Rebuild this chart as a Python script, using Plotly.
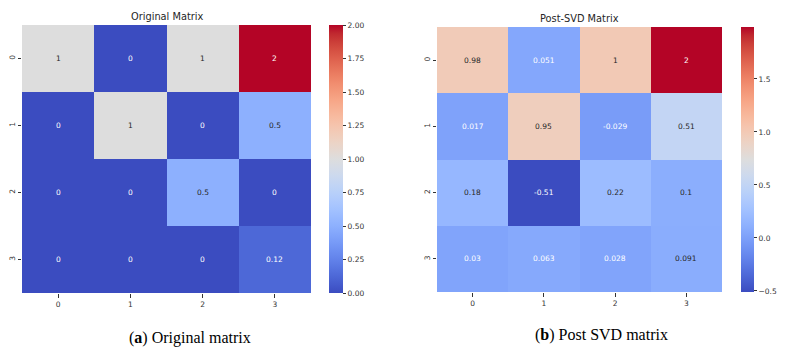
import plotly.graph_objects as go

# data
rows = [0, 1, 2, 3]
cols = [0, 1, 2, 3]
original = [
    [1, 0, 1, 2],
    [0, 1, 0, 0.5],
    [0, 0, 0.5, 0],
    [0, 0, 0, 0.125],
]
post_svd = [
    [0.98, 0.051, 1.0, 1.99],
    [0.017, 0.95, -0.029, 0.51],
    [0.18, -0.51, 0.22, 0.1],
    [0.03, 0.063, 0.028, 0.091],
]
orig_ticks = [0, 0.25, 0.5, 0.75, 1.0, 1.25, 1.5, 1.75, 2.0]
svd_ticks = [-0.5, 0.0, 0.5, 1.0, 1.5]

# matplotlib "coolwarm" (Moreland table)
cw = [
    (59, 76, 192), (68, 90, 204), (77, 104, 215), (87, 117, 225), (98, 130, 234),
    (108, 142, 241), (119, 154, 247), (130, 165, 251), (141, 176, 254), (152, 185, 255),
    (163, 194, 255), (174, 201, 253), (184, 208, 249), (194, 213, 244), (204, 217, 238),
    (213, 219, 230), (221, 221, 221), (229, 216, 209), (236, 211, 197), (241, 204, 185),
    (245, 196, 173), (247, 187, 160), (247, 177, 148), (247, 166, 135), (244, 154, 123),
    (241, 141, 111), (236, 127, 99), (229, 112, 88), (222, 96, 77), (213, 80, 66),
    (203, 62, 56), (192, 40, 47), (180, 4, 38),
]
n = len(cw) - 1
coolwarm = [[i / n, 'rgb(%d,%d,%d)' % c] for i, c in enumerate(cw)]


def cmap(t):
    t = min(max(t, 0), 1) * n
    i = min(int(t), n - 1)
    f = t - i
    return [cw[i][k] + (cw[i + 1][k] - cw[i][k]) * f for k in range(3)]


def text_color(rgb):
    # seaborn's rule for annotation colour
    lin = []
    for c in rgb:
        c = c / 255
        lin.append(c / 12.92 if c <= 0.03928 else ((c + 0.055) / 1.055) ** 2.4)
    lum = 0.2126 * lin[0] + 0.7152 * lin[1] + 0.0722 * lin[2]
    return '#262626' if lum > 0.408 else 'white'


# page body has an 8px margin, so work in page pixels and shift
OFF = 8
W, H = 788 - OFF, 349 - OFF
tick_font = dict(family='DejaVu Sans', size=7.5, color='#333333')


def px(x):
    return (x - OFF) / W


def py(y):
    return 1 - (y - OFF) / H


panels = [
    dict(z=original, zmin=0, zmax=2, ticks=orig_ticks, fmt='.2f',
         xs=(22, 311), ys=(25, 293), cbx=329, cbw=14,
         title='Original Matrix', caption='(<b>a</b>) Original matrix', capx=190, capy=338),
    dict(z=post_svd, zmin=-0.51, zmax=1.99, ticks=svd_ticks, fmt='.1f',
         xs=(437, 722), ys=(27, 292), cbx=741, cbw=13,
         title='Post-SVD Matrix', caption='(<b>b</b>) Post SVD matrix', capx=601, capy=335),
]

fig = go.Figure()
annotations = []
for k, p in enumerate(panels):
    ax = '' if k == 0 else str(k + 1)
    fig.add_trace(go.Heatmap(
        z=p['z'], x=cols, y=rows, xaxis='x' + ax, yaxis='y' + ax,
        colorscale=coolwarm, zmin=p['zmin'], zmax=p['zmax'],
        hoverinfo='z',
        colorbar=dict(
            x=px(p['cbx']), xanchor='left', xpad=0,
            y=py(p['ys'][0]), yanchor='top', ypad=0,
            lenmode='pixels', len=p['ys'][1] - p['ys'][0],
            thickness=p['cbw'], outlinewidth=0,
            tickvals=p['ticks'], tickformat=p['fmt'],
            ticks='outside', ticklen=3.5, tickwidth=0.8, tickcolor='#333333',
            tickfont=tick_font,
        ),
    ))
    fig.update_layout({
        'xaxis' + ax: dict(
            domain=[px(p['xs'][0]), px(p['xs'][1])], anchor='y' + ax,
            tickvals=cols, ticks='outside', ticklen=3.5, tickwidth=0.8, tickcolor='#333333',
            tickfont=tick_font, showgrid=False, zeroline=False, showline=False,
        ),
        'yaxis' + ax: dict(
            domain=[py(p['ys'][1]), py(p['ys'][0])], anchor='x' + ax,
            tickvals=rows, autorange='reversed', tickangle=-90,
            ticks='outside', ticklen=3.5, tickwidth=0.8, tickcolor='#333333',
            tickfont=tick_font, showgrid=False, zeroline=False, showline=False,
        ),
    })
    span = p['zmax'] - p['zmin']
    for i, r in enumerate(rows):
        for j, c in enumerate(cols):
            v = p['z'][i][j]
            col = text_color(cmap((v - p['zmin']) / span))
            annotations.append(dict(
                x=c, y=r, xref='x' + ax, yref='y' + ax, text=format(v, '.2g'),
                showarrow=False, font=dict(family='DejaVu Sans', size=7.5, color=col),
            ))
    annotations.append(dict(
        x=px((p['xs'][0] + p['xs'][1]) / 2), y=py(p['ys'][0] - 8),
        xref='paper', yref='paper', text=p['title'], showarrow=False,
        xanchor='center', yanchor='middle',
        font=dict(family='DejaVu Sans', size=9.8, color='#262626'),
    ))
    annotations.append(dict(
        x=px(p['capx']), y=py(p['capy']), xref='paper', yref='paper',
        text=p['caption'], showarrow=False, xanchor='center', yanchor='middle',
        font=dict(family='Liberation Serif', size=16, color='black'),
    ))

fig.update_layout(
    width=W, height=H,
    margin=dict(l=0, r=0, t=0, b=0),
    paper_bgcolor='white', plot_bgcolor='white',
    annotations=annotations,
)

fig.write_html("out.html")
